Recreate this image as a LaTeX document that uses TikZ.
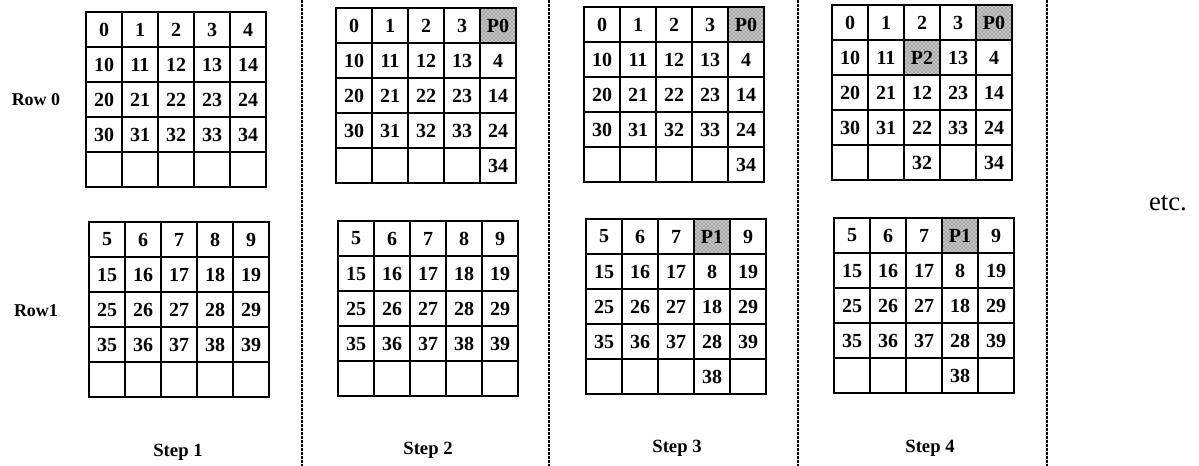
\documentclass[tikz,border=0pt]{standalone}
\usepackage{fontspec}
\setmainfont{Liberation Serif}
\usetikzlibrary{patterns}

% one 5x5 block of cells: name, left, top, rows
\newcommand{\cellgrid}[4]{%
  \foreach \row [count=\r] in {#4} {
    \foreach \v [count=\c] in \row {
      \node[cell, #1-\r-\c/.try] (#1-\r-\c) at ({#2+18+(\c-1)*36}, {#3+17.5+(\r-1)*35}) {\v};
    }
  }
}

\begin{document}
\begin{tikzpicture}[x=0.75pt, y=-0.75pt,
  cell/.style={draw, line width=1.6pt, inner sep=0pt, minimum width=27pt, minimum height=26.25pt, font=\fontsize{15}{15}\selectfont\bfseries},
  shaded/.style={preaction={fill=black!22}, pattern=crosshatch dots, pattern color=black!80},
  steplabel/.style={font=\fontsize{14}{14}\selectfont\bfseries},
  rowlabel/.style={font=\fontsize{13.5}{13.5}\selectfont\bfseries},
  divider/.style={line width=0.9pt, dash pattern=on 2pt off 1pt},
  s2a-1-5/.style=shaded, s3a-1-5/.style=shaded, s3b-1-4/.style=shaded,
  s4a-1-5/.style=shaded, s4a-2-3/.style=shaded, s4b-1-4/.style=shaded]
\useasboundingbox (0,0) rectangle (1199,466);

% step 1
\cellgrid{s1a}{86}{12}{{0,1,2,3,4},{10,11,12,13,14},{20,21,22,23,24},{30,31,32,33,34},{{},{},{},{},{}}}
\cellgrid{s1b}{89}{222}{{5,6,7,8,9},{15,16,17,18,19},{25,26,27,28,29},{35,36,37,38,39},{{},{},{},{},{}}}
% step 2
\cellgrid{s2a}{336}{8}{{0,1,2,3,P0},{10,11,12,13,4},{20,21,22,23,14},{30,31,32,33,24},{{},{},{},{},34}}
\cellgrid{s2b}{338}{221}{{5,6,7,8,9},{15,16,17,18,19},{25,26,27,28,29},{35,36,37,38,39},{{},{},{},{},{}}}
% step 3
\cellgrid{s3a}{584}{7}{{0,1,2,3,P0},{10,11,12,13,4},{20,21,22,23,14},{30,31,32,33,24},{{},{},{},{},34}}
\cellgrid{s3b}{586}{219}{{5,6,7,P1,9},{15,16,17,8,19},{25,26,27,18,29},{35,36,37,28,39},{{},{},{},38,{}}}
% step 4
\cellgrid{s4a}{832}{5}{{0,1,2,3,P0},{10,11,P2,13,4},{20,21,12,23,14},{30,31,22,33,24},{{},{},32,{},34}}
\cellgrid{s4b}{834}{218}{{5,6,7,P1,9},{15,16,17,8,19},{25,26,27,18,29},{35,36,37,28,39},{{},{},{},38,{}}}

% row and step labels
\node[rowlabel] (row0) at (36,100) {Row 0};
\node[rowlabel] (row1) at (36,311) {Row1};
\node[steplabel] (step1) at (178,452) {Step 1};
\node[steplabel] (step2) at (428,450) {Step 2};
\node[steplabel] (step3) at (677,448) {Step 3};
\node[steplabel] (step4) at (930,448) {Step 4};
\node[font=\fontsize{20}{20}\selectfont] (etc) at (1168,203) {etc.};

% dividers
\foreach \dx in {302,549,798,1047}
  \draw[divider] (\dx,0) -- (\dx,466);
\end{tikzpicture}
\end{document}
